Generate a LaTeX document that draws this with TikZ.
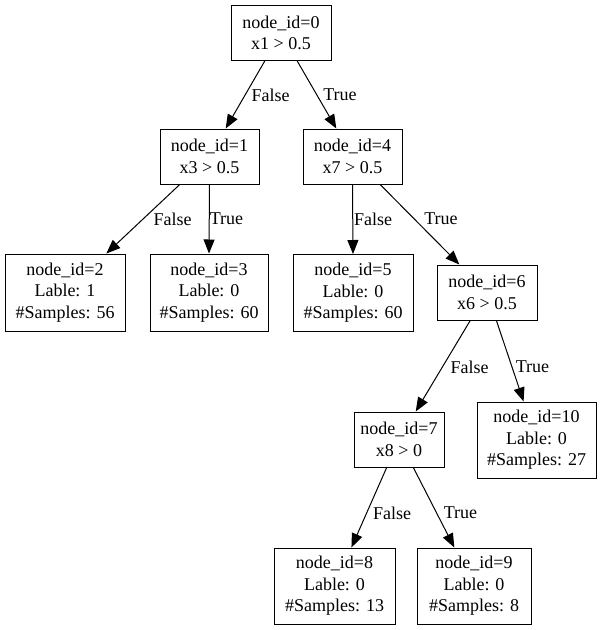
\documentclass[tikz,border=0pt]{standalone}
\usepackage{fontspec}
\setmainfont{Liberation Serif}
\usetikzlibrary{arrows.meta}
\begin{document}
\begin{tikzpicture}[x=1pt, y=-1pt,
  treebox/.style={draw, line width=1pt, align=center, inner sep=0pt,
    font=\fontsize{18}{21.5}\selectfont, minimum height=55pt},
  leafbox/.style={treebox, minimum height=77pt},
  lbl/.style={inner sep=0pt, font=\fontsize{18}{21}\selectfont},
  edge/.style={line width=1pt, -{Triangle[length=14pt, width=11pt]}}]
\useasboundingbox (0,0) rectangle (603,630);

% split nodes
\node[treebox, minimum width=100pt] (n0) at (281,33) {node\_id=0\\x1 > 0.5};
\node[treebox, minimum width=99pt] (n1) at (209.5,156.5) {node\_id=1\\x3 > 0.5};
\node[treebox, minimum width=99pt] (n4) at (352.5,156.5) {node\_id=4\\x7 > 0.5};
\node[treebox, minimum width=100pt] (n6) at (487,292.5) {node\_id=6\\x6 > 0.5};
\node[treebox, minimum width=90pt] (n7) at (399,439.5) {node\_id=7\\x8 > 0};

% leaves
\node[leafbox, minimum width=120pt] (n2) at (65,292.5) {node\_id=2\\Lable: 1\\\#Samples: 56};
\node[leafbox, minimum width=118pt] (n3) at (209,292.5) {node\_id=3\\Lable: 0\\\#Samples: 60};
\node[leafbox, minimum width=120pt] (n5) at (353,293) {node\_id=5\\Lable: 0\\\#Samples: 60};
\node[leafbox, minimum width=119pt, minimum height=76pt] (n10) at (536.5,440) {node\_id=10\\Lable: 0\\\#Samples: 27};
\node[leafbox, minimum width=121pt, minimum height=76pt] (n8) at (334.5,586) {node\_id=8\\Lable: 0\\\#Samples: 13};
\node[leafbox, minimum width=114pt, minimum height=76pt] (n9) at (474,586) {node\_id=9\\Lable: 0\\\#Samples: 8};

% connectors
\draw[edge] (n0) -- (n1);
\draw[edge] (n0) -- (n4);
\draw[edge] (n1) -- (n2);
\draw[edge] (n1.south) -- (n3.north);
\draw[edge] (n4.south) -- (n5.north);
\draw[edge] (n4) -- (n6);
\draw[edge] (n6) -- (n7);
\draw[edge] (n6) -- (n10);
\draw[edge] (n7) -- (n8);
\draw[edge] (n7) -- (n9);

% branch labels
\node[lbl] (l01) at (270.5,95) {False};
\node[lbl] (l04) at (340,95) {True};
\node[lbl] (l12) at (172.5,219) {False};
\node[lbl] (l13) at (226.5,219) {True};
\node[lbl] (l45) at (373,219) {False};
\node[lbl] (l46) at (441,219) {True};
\node[lbl] (l67) at (469.5,367) {False};
\node[lbl] (l610) at (532.5,367) {True};
\node[lbl] (l78) at (392,513) {False};
\node[lbl] (l79) at (460.5,513) {True};
\end{tikzpicture}
\end{document}
